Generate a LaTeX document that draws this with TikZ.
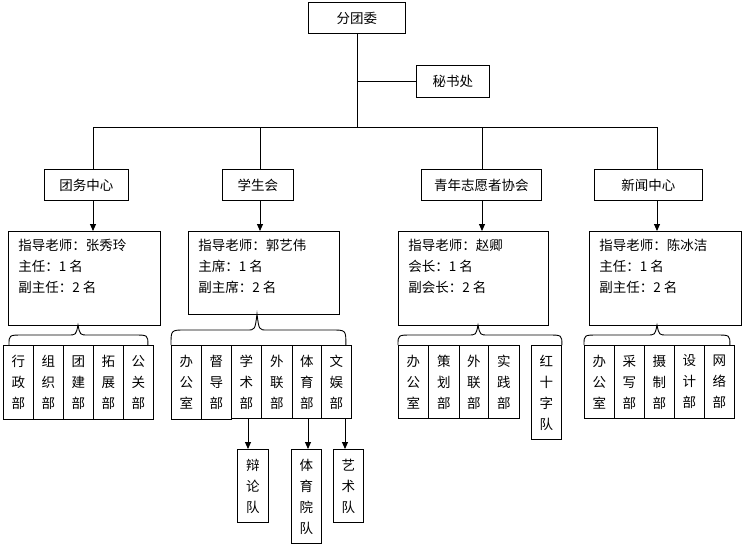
\documentclass[tikz,border=0pt]{standalone}
\usepackage{fontspec}
\setmainfont{Noto Sans CJK SC}
\usetikzlibrary{arrows.meta,calc}
\newcommand\mybrc[4]{%
  \draw (#1) .. controls ($(#1)+(0,-#4)$) .. ($(#1)+(14,-#4)$)
    -- ($(#3|-#1)+(-10,-#4)$) .. controls ($(#3|-#1)+(-2,-#4)$) .. (#3)
    .. controls ($(#3|-#1)+(2,-#4)$) .. ($(#3|-#1)+(10,-#4)$)
    -- ($(#2)+(-14,-#4)$) .. controls ($(#2)+(0,-#4)$) .. (#2);}
\begin{document}
\begin{tikzpicture}[x=1pt,y=-1pt,line width=0.9pt,
  txt/.style={font=\fontsize{13.5}{21}\selectfont},
  box/.style={draw,rectangle,inner sep=0pt,anchor=north west,txt},
  vbox/.style={box,align=center},
  info/.style={anchor=north west,inner sep=0pt,align=left,txt},
  arr/.style={-{Triangle[length=7pt,width=6pt]}}]
\useasboundingbox (0,0) rectangle (743,547);
% top level
\node[box,minimum width=97pt,minimum height=31pt] (fen) at (308,2) {分团委};
\node[box,minimum width=73pt,minimum height=32pt] (mis) at (416,65) {秘书处};
\coordinate (v1) at (93,127);
\coordinate (v2) at (260,127);
\coordinate (v3) at (482,127);
\coordinate (v4) at (657,127);
\draw (fen.south) -- (fen.south |- v1);
\draw (fen.south |- mis.west) -- (mis.west);
\draw (v1) -- (v4);
% centres
\node[box,minimum width=84pt,minimum height=31pt] (c1) at (44,169) {团务中心};
\node[box,minimum width=71pt,minimum height=31pt] (c2) at (222,169) {学生会};
\node[box,minimum width=120pt,minimum height=31pt] (c3) at (421,169) {青年志愿者协会};
\node[box,minimum width=108pt,minimum height=31pt] (c4) at (594,169) {新闻中心};
\foreach \i in {1,2,3,4}{\draw (v\i) -- (c\i.north -| v\i);}
% info boxes
\node[box,minimum width=152pt,minimum height=94pt] (i1) at (8,231) {};
\node[box,minimum width=151pt,minimum height=83pt] (i2) at (188,231) {};
\node[box,minimum width=150pt,minimum height=94pt] (i3) at (398,231) {};
\node[box,minimum width=152pt,minimum height=94pt] (i4) at (589,231) {};
\foreach \i in {1,2,3,4}{\draw[arr] (c\i.south -| v\i) -- (i\i.north -| v\i);}
\node[info] (t1) at ([shift={(10,8)}]i1.north west) {指导老师：张秀玲\\主任：1 名\\副主任：2 名};
\node[info] (t2) at ([shift={(10,8)}]i2.north west) {指导老师：郭艺伟\\主席：1 名\\副主席：2 名};
\node[info] (t3) at ([shift={(10,8)}]i3.north west) {指导老师：赵卿\\会长：1 名\\副会长：2 名};
\node[info] (t4) at ([shift={(10,8)}]i4.north west) {指导老师：陈冰洁\\主任：1 名\\副主任：2 名};
% group 1
\node[vbox,minimum width=30pt,minimum height=74pt] (a1) at (3,345) {行\\政\\部};
\node[vbox,minimum width=30pt,minimum height=74pt] (a2) at (33,345) {组\\织\\部};
\node[vbox,minimum width=30pt,minimum height=74pt] (a3) at (63,345) {团\\建\\部};
\node[vbox,minimum width=30pt,minimum height=74pt] (a4) at (93,345) {拓\\展\\部};
\node[vbox,minimum width=30pt,minimum height=74pt] (a5) at (123,345) {公\\关\\部};
% group 2
\node[vbox,minimum width=30pt,minimum height=74pt] (b1) at (171,345) {办\\公\\室};
\node[vbox,minimum width=30pt,minimum height=74pt] (b2) at (201,345) {督\\导\\部};
\node[vbox,minimum width=30pt,minimum height=73pt] (b3) at (231,345) {学\\术\\部};
\node[vbox,minimum width=31pt,minimum height=73pt] (b4) at (261,345) {外\\联\\部};
\node[vbox,minimum width=29pt,minimum height=73pt] (b5) at (292,345) {体\\育\\部};
\node[vbox,minimum width=30pt,minimum height=73pt] (b6) at (321,345) {文\\娱\\部};
% group 3
\node[vbox,minimum width=30pt,minimum height=73pt] (d1) at (398,345) {办\\公\\室};
\node[vbox,minimum width=31pt,minimum height=73pt] (d2) at (428,345) {策\\划\\部};
\node[vbox,minimum width=29pt,minimum height=73pt] (d3) at (459,345) {外\\联\\部};
\node[vbox,minimum width=31pt,minimum height=73pt] (d4) at (488,345) {实\\践\\部};
\node[vbox,minimum width=30pt,minimum height=94pt] (d5) at (531,345) {红\\十\\字\\队};
% group 4
\node[vbox,minimum width=30pt,minimum height=73pt] (e1) at (584,345) {办\\公\\室};
\node[vbox,minimum width=30pt,minimum height=73pt] (e2) at (614,345) {采\\写\\部};
\node[vbox,minimum width=30pt,minimum height=73pt] (e3) at (644,345) {摄\\制\\部};
\node[vbox,minimum width=30pt,minimum height=73pt] (e4) at (674,345) {设\\计\\部};
\node[vbox,minimum width=30pt,minimum height=73pt] (e5) at (704,345) {网\\络\\部};
% teams
\node[vbox,minimum width=31pt,minimum height=73pt] (f1) at (237,449) {辩\\论\\队};
\node[vbox,minimum width=30pt,minimum height=94pt] (f2) at (291,449) {体\\育\\院\\队};
\node[vbox,minimum width=30pt,minimum height=73pt] (f3) at (333,449) {艺\\术\\队};
\coordinate (w1) at (248,419);
\coordinate (w2) at (308,419);
\coordinate (w3) at (345,419);
\draw[arr] (b3.south -| w1) -- (f1.north -| w1);
\draw[arr] (b5.south -| w2) -- (f2.north -| w2);
\draw[arr] (b6.south -| w3) -- (f3.north -| w3);
% braces
\coordinate (k1) at (78,325);
\coordinate (k2) at (257,314);
\coordinate (k3) at (478,325);
\coordinate (k4) at (657,325);
\coordinate (L1) at ([xshift=6pt]a1.north west);
\coordinate (R1) at ([xshift=-6pt]a5.north east);
\coordinate (L2) at (b1.north west);
\coordinate (R2) at ([xshift=-6pt]b6.north east);
\coordinate (L3) at (d1.north west);
\coordinate (R3) at (d5.north east);
\coordinate (L4) at (e1.north west);
\coordinate (R4) at ([xshift=-5pt]e5.north east);
\mybrc{L1}{R1}{k1}{10}
\mybrc{L2}{R2}{k2}{15}
\mybrc{L3}{R3}{k3}{10}
\mybrc{L4}{R4}{k4}{10}
\end{tikzpicture}
\end{document}
